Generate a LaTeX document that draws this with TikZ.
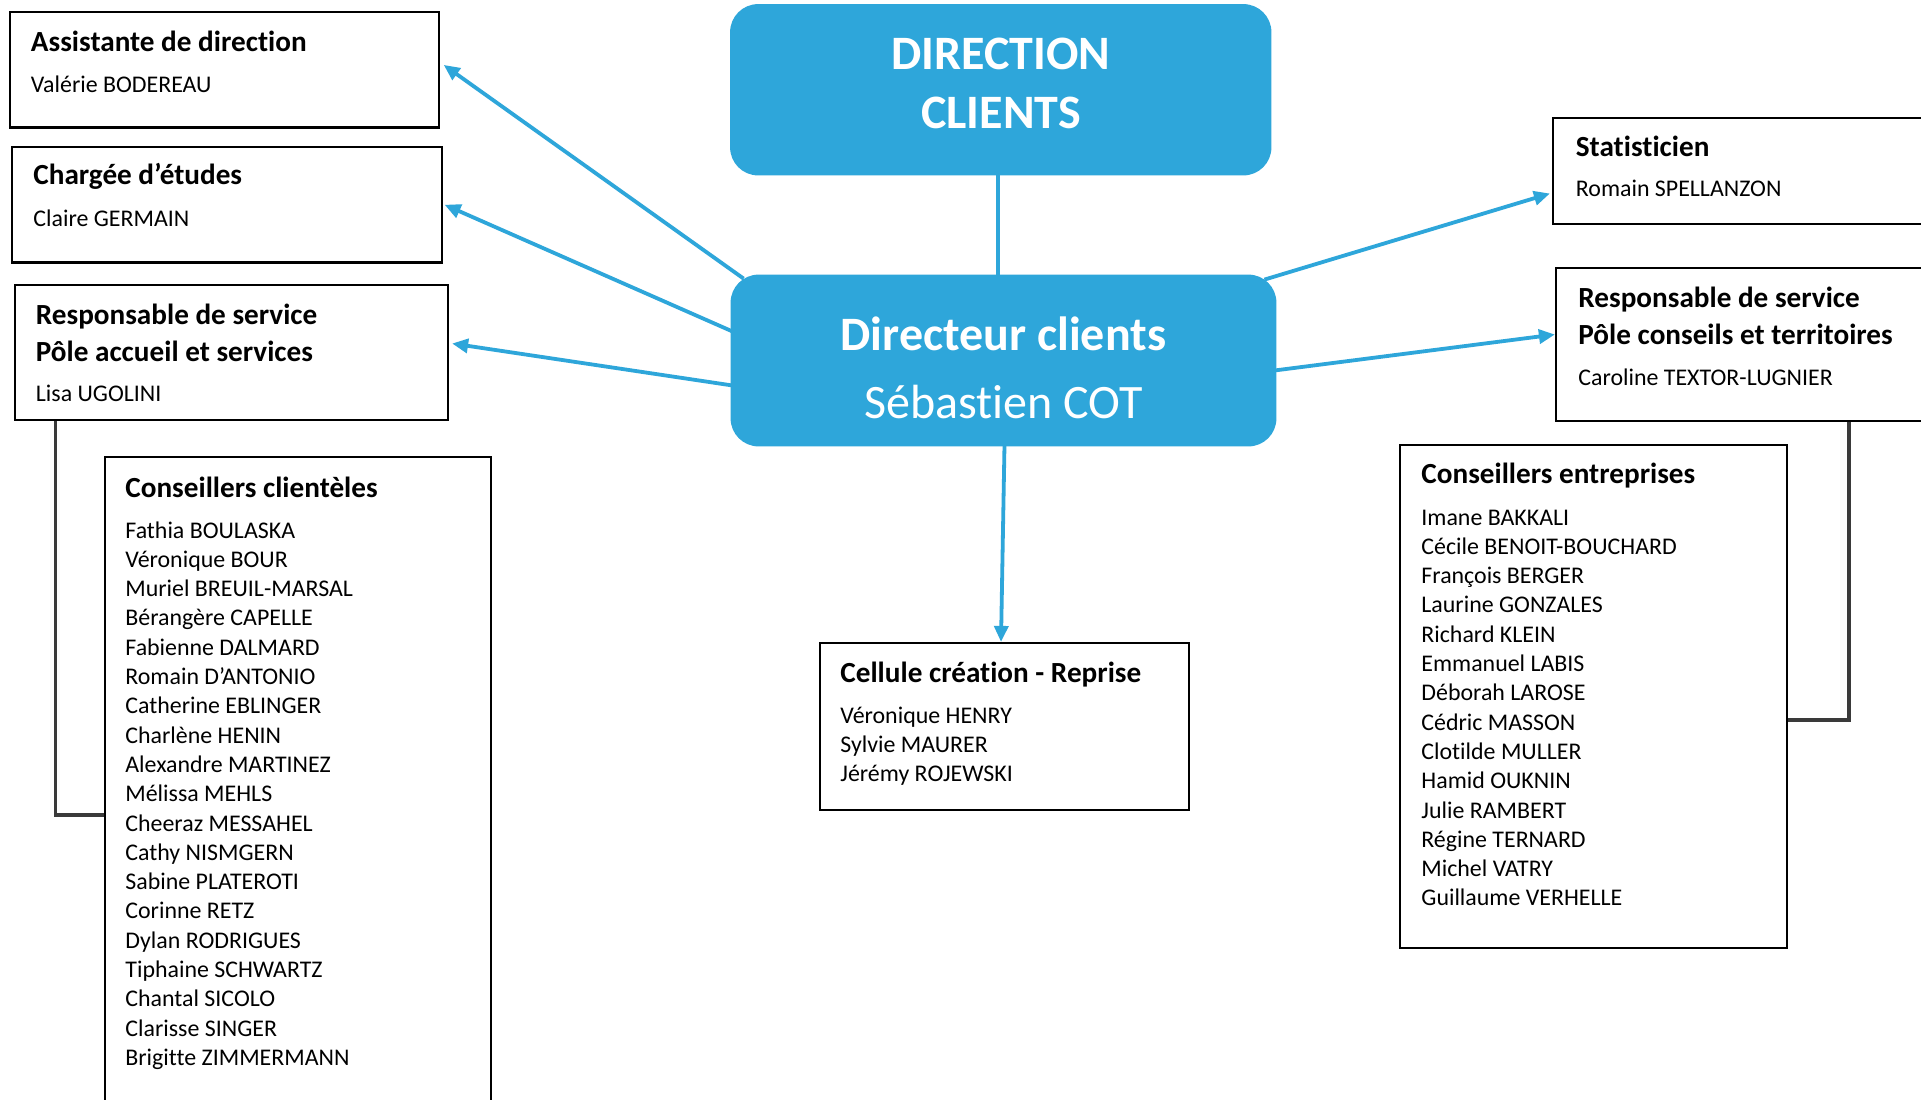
\documentclass[tikz,border=0pt]{standalone}
\usepackage{fontspec}
\setmainfont{Carlito}[Ligatures=NoCommon]
\usetikzlibrary{arrows.meta,calc,fit}
\definecolor{dblue}{RGB}{46,166,218}
\definecolor{lgrey}{RGB}{58,58,58}
\begin{document}
\begin{tikzpicture}[x=0.5pt,y=-0.5pt,
  box/.style={draw=black, line width=1.1pt, fill=white, inner sep=0pt},
  head/.style={anchor=base west, inner sep=0pt, font=\fontsize{14.6pt}{17pt}\selectfont\bfseries},
  body/.style={anchor=base west, inner sep=0pt, font=\fontsize{11.95pt}{14pt}\selectfont},
  bighead/.style={anchor=base, inner sep=0pt, text=white, font=\fontsize{24pt}{28pt}\selectfont\bfseries},
  big/.style={anchor=base, inner sep=0pt, text=white, font=\fontsize{24pt}{28pt}\selectfont},
  barrow/.style={draw=dblue, line width=1.9pt, -{Triangle[length=8pt,width=7pt]}},
  bline/.style={draw=dblue, line width=1.9pt},
  gline/.style={draw=lgrey, line width=1.8pt}]
\clip (0,0) rectangle (1921,1099);
\fill[white] (0,0) rectangle (1921,1099);

% white boxes
\node[box, fit={(9.8,12.3) (438.6,127.5)}] (A) {};
\node[box, fit={(12,147) (442,262.5)}] (C) {};
\node[box, fit={(15,285) (448,420)}] (R) {};
\node[box, fit={(105,457) (491,1120)}] (CC) {};
\node[box, fit={(1553,118) (1940,224)}] (ST) {};
\node[box, fit={(1556,268) (1940,421)}] (RC) {};
\node[box, fit={(1400,445) (1787,948)}] (CE) {};
\node[box, fit={(820,643) (1189,810)}] (CR) {};

% blue boxes (named, filled later on top of connectors)
\path (730.5,4.5) coordinate (dirA) (1271,175) coordinate (dirB);
\path (731,275) coordinate (dcA) (1276,446) coordinate (dcB);
\node[inner sep=0pt, fit=(dirA)(dirB)] (DIR) {};
\node[inner sep=0pt, fit=(dcA)(dcB)] (DC) {};

% connectors
\draw[bline] ($(DIR.south)+(-2.5,-2)$) -- ($(DIR.south |- DC.north)+(-2.5,2)$);
\draw[barrow] ($(DC.north west)+(13,4)$) -- ($(A.east)+(4,-5)$);
\draw[barrow] ($(DC.west)+(2,-29)$) -- ($(C.east)+(1.5,0)$);
\draw[barrow] ($(DC.west)+(2,25)$) -- ($(R.east)+(3,-9)$);
\draw[barrow] ($(DC.north east)+(-12,5)$) -- ($(ST.west)+(-2,22.5)$);
\draw[barrow] ($(DC.east)+(-2,10)$) -- ($(RC.west)+(0,-10)$);
\draw[barrow] ($(DC.south)+(1,-2)$) -- ($(CR.north)+(-3.5,0)$);

\draw[gline] ($(R.south west)+(41.5,0)$) |- ($(CC.north west)+(0,359)$);
\draw[gline] ($(RC.south west)+(294,0)$) |- ($(CE.north east)+(0,276)$);

% blue boxes
\fill[dblue, rounded corners=14pt] (DIR.north west) rectangle (DIR.south east);
\fill[dblue, rounded corners=14pt] (DC.north west) rectangle (DC.south east);

% texts
\node[bighead] (D1) at (1001,69.4) {DIRECTION};
\node[bighead] (D2) at (1001,128) {CLIENTS};
\node[bighead] (DC1) at (1003.5,350) {Directeur clients};
\node[big] (DC2) at (1003.5,418.5) {Sébastien COT};

\node[head] (At) at (30.6,51) {Assistante de direction};
\node[body] (Ab) at (30.6,92) {Valérie BODEREAU};
\node[head] (Ct) at (33,184.5) {Chargée d’études};
\node[body] (Cb) at (33,226) {Claire GERMAIN};
\node[head] (Rt1) at (35.5,324) {Responsable de service};
\node[head] (Rt2) at (35.5,361) {Pôle accueil et services};
\node[body] (Rb) at (35.5,401) {Lisa UGOLINI};

\node[head] (CCt) at (125,497) {Conseillers clientèles};
\foreach [count=\i from 0] \n in {Fathia BOULASKA, Véronique BOUR, Muriel BREUIL-MARSAL,
  Bérangère CAPELLE, Fabienne DALMARD, Romain D’ANTONIO, Catherine EBLINGER,
  Charlène HENIN, Alexandre MARTINEZ, Mélissa MEHLS, Cheeraz MESSAHEL,
  Cathy NISMGERN, Sabine PLATEROTI, Corinne RETZ, Dylan RODRIGUES,
  Tiphaine SCHWARTZ, Chantal SICOLO, Clarisse SINGER, Brigitte ZIMMERMANN}
  \node[body] (cc\i) at (125,{538+29.3*\i}) {\n};

\node[head] (STt) at (1575.5,156) {Statisticien};
\node[body] (STb) at (1575.5,196) {Romain SPELLANZON};
\node[head] (RCt1) at (1578,307) {Responsable de service};
\node[head] (RCt2) at (1578,344) {Pôle conseils et territoires};
\node[body] (RCb) at (1578,385) {Caroline TEXTOR-LUGNIER};

\node[head] (CEt) at (1421,483) {Conseillers entreprises};
\foreach [count=\i from 0] \n in {Imane BAKKALI, Cécile BENOIT-BOUCHARD, François BERGER,
  Laurine GONZALES, Richard KLEIN, Emmanuel LABIS, Déborah LAROSE, Cédric MASSON,
  Clotilde MULLER, Hamid OUKNIN, Julie RAMBERT, Régine TERNARD, Michel VATRY,
  Guillaume VERHELLE}
  \node[body] (ce\i) at (1421,{525+29.3*\i}) {\n};

\node[head] (CRt) at (840,682) {Cellule création - Reprise};
\node[body] (CR1) at (840,723) {Véronique HENRY};
\node[body] (CR2) at (840,752.3) {Sylvie MAURER};
\node[body] (CR3) at (840,781.6) {Jérémy ROJEWSKI};
\end{tikzpicture}
\end{document}
